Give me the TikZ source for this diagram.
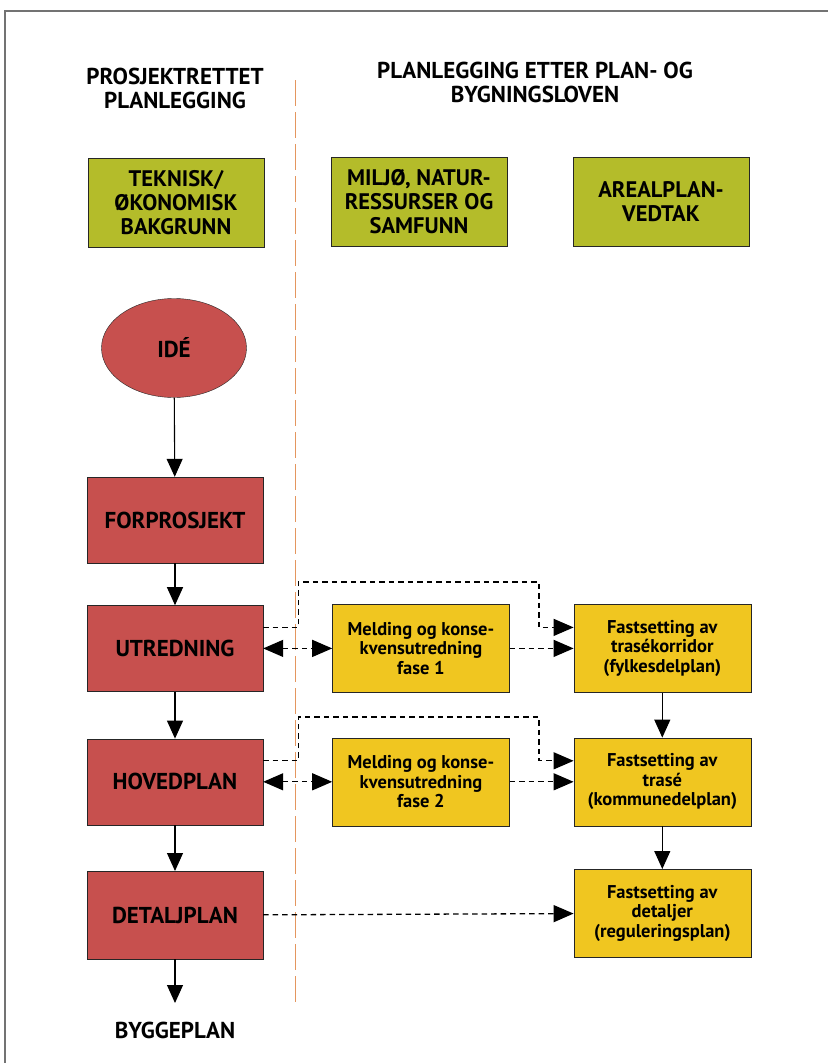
\documentclass[tikz,border=0pt]{standalone}
\usepackage{fontspec}
\setmainfont{PT Sans}
\usetikzlibrary{arrows.meta, positioning, shapes.geometric}
\definecolor{phasered}{RGB}{199,80,78}
\definecolor{basisgreen}{RGB}{180,188,42}
\definecolor{studyyellow}{RGB}{240,198,32}
\definecolor{divorange}{RGB}{228,150,95}

\begin{document}
\begin{tikzpicture}[x=1pt, y=-1pt,
   head/.style={font=\fontsize{23}{24}\selectfont\bfseries, align=center},
   basis/.style={draw=black!85, fill=basisgreen, minimum width=176pt, minimum height=89pt,
                 font=\fontsize{22.5}{24}\selectfont\bfseries, align=center, inner sep=2pt},
   phase/.style={draw=black!85, fill=phasered, minimum width=176pt, minimum height=86pt,
                 font=\fontsize{23}{24}\selectfont\bfseries, align=center},
   study/.style={draw=black!85, fill=studyyellow, minimum width=177pt, minimum height=88pt,
                 font=\fontsize{18.5}{19.5}\selectfont\bfseries, align=center, inner sep=2pt},
   flow/.style={-{Triangle[length=18pt, width=16pt]}, black, line width=1.1pt},
   link/.style={-{Triangle[length=20pt, width=17pt]}, black, line width=1.3pt,
                dash pattern=on 5.5pt off 4pt},
   node distance=44pt and 69pt]

 % frame and column divider
 \useasboundingbox (0,0) rectangle (828,1063);
 \draw[black!55, line width=1.2pt] (5,1063) -- (5,11) -- (828,11);
 \draw[divorange, line width=0.8pt, dash pattern=on 26pt off 6pt] (295,80) -- (295,1005);

 % column headings
 \node[head] (projhead) at (175,88) {PROSJEKTRETTET\\PLANLEGGING};
 \node[head] (lawhead) at (535,82) {PLANLEGGING ETTER PLAN- OG\\BYGNINGSLOVEN};

 \node[basis] (teknisk) at (176,203) {TEKNISK/\\ØKONOMISK\\BAKGRUNN};
 \node[basis] (miljo) at (419,202) {MILJØ, NATUR-\\RESSURSER OG\\SAMFUNN};
 \node[basis] (areal) at (661,202) {AREALPLAN-\\VEDTAK};

 % project column
 \node[ellipse, draw=black!85, fill=phasered, minimum width=145pt, minimum height=99pt,
       font=\fontsize{23}{24}\selectfont\bfseries] (ide) at (174,348) {IDÉ};
 \node[phase] (forprosjekt) at (175,520) {FORPROSJEKT};
 \node[phase, below=42pt of forprosjekt] (utredning) {UTREDNING};
 \node[phase, below=47pt of utredning] (hovedplan) {HOVEDPLAN};
 \node[phase, minimum height=88pt, below=46pt of hovedplan] (detaljplan) {DETALJPLAN};
 \node[font=\fontsize{23}{24}\selectfont\bfseries] (byggeplan) at (175,1030) {BYGGEPLAN};
 \coordinate (byggtop) at (175,1003);

 % planning law columns
 \node[study, right=69pt of utredning] (melding1) {Melding og konse-\\kvensutredning\\fase 1};
 \node[study, right=69pt of hovedplan] (melding2) {Melding og konse-\\kvensutredning\\fase 2};
 \node[study, right=64pt of melding1] (korridor) {Fastsetting av\\trasékorridor\\(fylkesdelplan)};
 \node[study, right=64pt of melding2] (trase) {Fastsetting av\\trasé\\(kommunedelplan)};
 \node[study, below=43pt of trase] (detaljer) {Fastsetting av\\detaljer\\(reguleringsplan)};

 \coordinate (loop1) at (539,582);
 \coordinate (loop2) at (539,717);

 \draw[flow] (ide) -- (forprosjekt);
 \draw[flow] (forprosjekt) -- (utredning);
 \draw[flow] (utredning) -- (hovedplan);
 \draw[flow] (hovedplan) -- (detaljplan);
 \draw[flow] (detaljplan) -- (byggtop);
 \draw[flow] (korridor) -- (trase);
 \draw[flow] (trase) -- (detaljer);

 \draw[link, {Triangle[length=20pt, width=17pt]}-{Triangle[length=20pt, width=17pt]}] (utredning) -- (melding1);
 \draw[link] (melding1) -- (korridor);
 \draw[link] ([yshift=21pt]utredning.east) -- ++(35pt,0) |- (loop1) |- ([yshift=21pt]korridor.west);
 \draw[link, {Triangle[length=20pt, width=17pt]}-{Triangle[length=20pt, width=17pt]}] (hovedplan) -- (melding2);
 \draw[link] (melding2) -- (trase);
 \draw[link] ([yshift=21pt]hovedplan.east) -- ++(35pt,0) |- (loop2) |- ([yshift=21pt]trase.west);
 \draw[link] (detaljplan) -- (detaljer);
\end{tikzpicture}
\end{document}
